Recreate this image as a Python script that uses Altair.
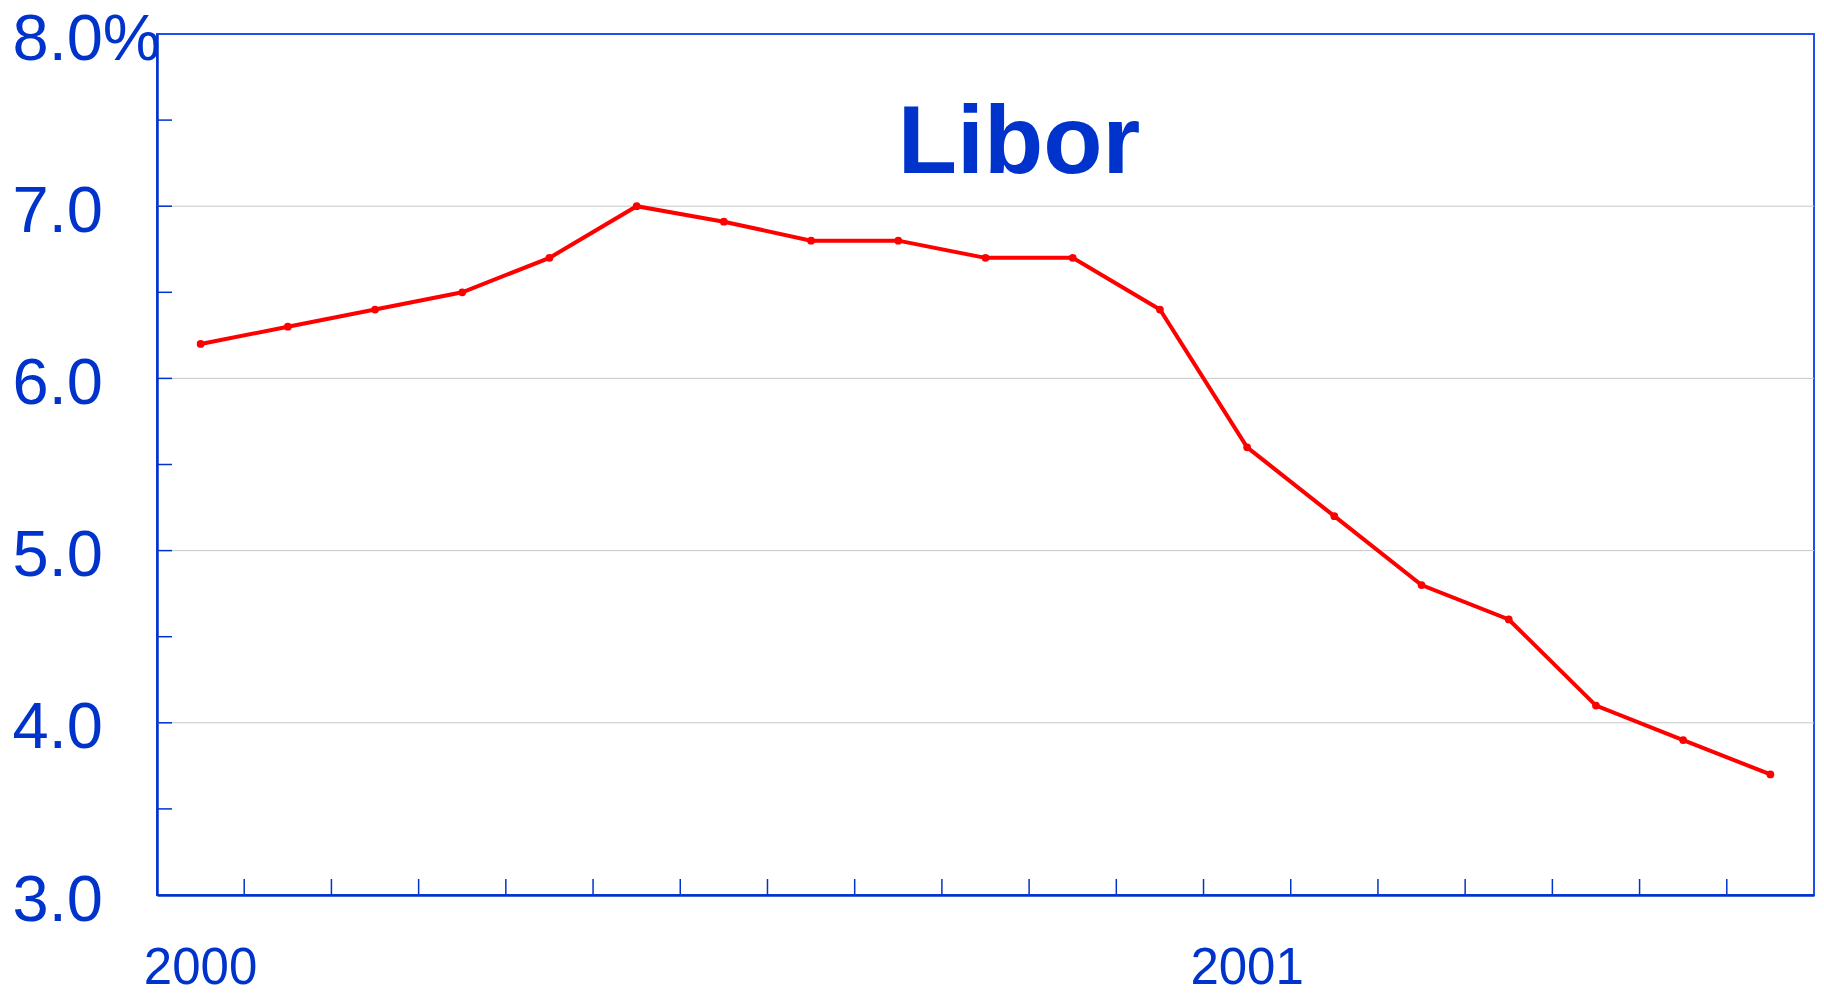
import altair as alt
import pandas as pd

months = ["2000-01", "2000-02", "2000-03", "2000-04", "2000-05", "2000-06",
          "2000-07", "2000-08", "2000-09", "2000-10", "2000-11", "2000-12",
          "2001-01", "2001-02", "2001-03", "2001-04", "2001-05", "2001-06",
          "2001-07"]
libor = [6.2, 6.3, 6.4, 6.5, 6.7, 7.0, 6.91, 6.8, 6.8, 6.7, 6.7, 6.4,
         5.6, 5.2, 4.8, 4.6, 4.1, 3.9, 3.7]
y_label_values = [3, 4, 5, 6, 7, 8]
grid_values = [4, 5, 6, 7]
y_tick_values = [3.5, 4, 4.5, 5, 5.5, 6, 6.5, 7, 7.5]
title_text = "Libor"

BLUE = "#0033cc"
FONT = "Liberation Sans"
W, H = 1657, 861

df = pd.DataFrame({"month": months, "rate": libor})
grid_df = pd.DataFrame({"v": grid_values})
ytick_df = pd.DataFrame({"v": y_tick_values})
xtick_df = pd.DataFrame({"month": months[1:]})

x_scale = alt.Scale(type="band", domain=months, paddingInner=0, paddingOuter=0)
y_scale = alt.Scale(domain=[3, 8], nice=False, zero=False)

label_expr = ("datum.value == '2000-01' ? '2000' : "
              "(datum.value == '2001-01' ? '2001' : '')")

x_axis = alt.Axis(title=None, ticks=False, tickSize=0, grid=False,
                  domainColor=BLUE, domainWidth=2.5,
                  labelExpr=label_expr, labelAngle=0, labelFont=FONT,
                  labelFontSize=51, labelColor=BLUE, labelPadding=88,
                  labelBaseline="alphabetic", labelOverlap=False,
                  labelFlush=False)
y_axis = alt.Axis(title=None, values=y_label_values, ticks=False, tickSize=0,
                  grid=False, domainColor=BLUE, domainWidth=2.5,
                  labelExpr="datum.value == 8 ? '8.0%' : format(datum.value, '.1f')",
                  labelFont=FONT, labelFontSize=65, labelColor=BLUE,
                  labelAlign="left", labelPadding=145, labelBaseline="middle",
                  labelOffset=5, labelOverlap=False, labelFlush=False)

grid = alt.Chart(grid_df).mark_rule(color="#c8c8c8", strokeWidth=1).encode(
    y=alt.Y("v:Q", scale=y_scale, axis=y_axis)
)

yticks = alt.Chart(ytick_df).mark_rule(color=BLUE, strokeWidth=1.5).encode(
    y=alt.Y("v:Q", scale=y_scale, axis=y_axis),
    x=alt.value(0), x2=alt.value(15)
)

xticks = alt.Chart(xtick_df).mark_rule(color=BLUE, strokeWidth=1.5).encode(
    x=alt.X("month:N", scale=x_scale, axis=x_axis, bandPosition=0),
    y=alt.value(H - 16), y2=alt.value(H)
)

line = alt.Chart(df).mark_line(color="#ff0000", strokeWidth=4).encode(
    x=alt.X("month:N", scale=x_scale, axis=x_axis, bandPosition=0.5),
    y=alt.Y("rate:Q", scale=y_scale, axis=y_axis)
)

points = alt.Chart(df).mark_point(filled=True, color="#ff0000", size=60,
                                  opacity=1).encode(
    x=alt.X("month:N", scale=x_scale, axis=x_axis, bandPosition=0.5),
    y=alt.Y("rate:Q", scale=y_scale, axis=y_axis)
)

title = alt.Chart(pd.DataFrame({"t": [title_text]})).mark_text(
    font=FONT, fontSize=97, fontWeight="bold", color=BLUE,
    align="center", baseline="alphabetic"
).encode(text="t:N", x=alt.value(862), y=alt.value(139))

chart = alt.layer(grid, yticks, xticks, line, points, title).properties(
    width=W, height=H,
    background="white",
    autosize=alt.AutoSizeParams(type="none"),
    padding={"left": 149, "top": 26, "right": 2, "bottom": 90},
).configure_view(
    stroke="#1f4ff0", strokeWidth=2
)

chart.save("out.html", embed_options={"renderer": "svg", "actions": False})
